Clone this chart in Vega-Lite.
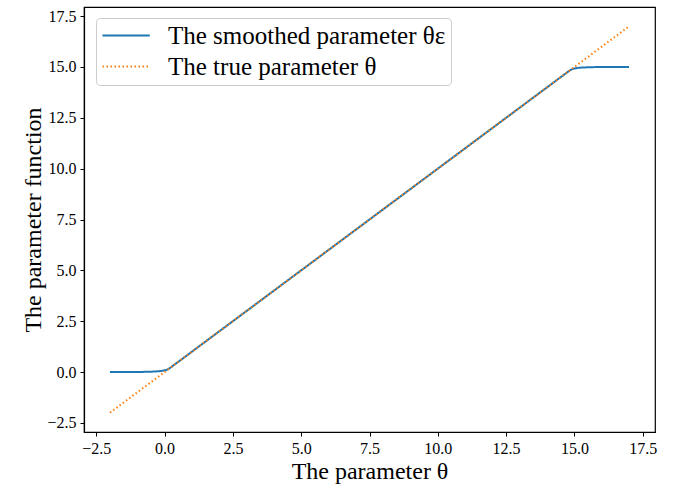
{
  "$schema": "https://vega.github.io/schema/vega-lite/v6.json",
  "width": 571,
  "height": 425,
  "autosize": "none",
  "padding": {"left": 84, "top": 7, "right": 26, "bottom": 55},
  "background": "white",
  "config": {
    "view": {"stroke": "black", "strokeWidth": 1.2},
    "font": "Liberation Serif",
    "axis": {
      "grid": false,
      "domainColor": "black",
      "domainWidth": 1.2,
      "tickColor": "black",
      "tickSize": 4,
      "tickWidth": 1,
      "labelFont": "Liberation Serif",
      "labelFontSize": 16,
      "labelColor": "black",
      "titleFont": "Liberation Serif",
      "titleFontSize": 24,
      "titleFontWeight": "normal",
      "titleColor": "black"
    }
  },
  "data": {
    "values": [
      {"theta": -2.0, "value": 0.0, "series": "smoothed"},
      {"theta": -1.5, "value": 0.0, "series": "smoothed"},
      {"theta": -1.0, "value": 0.003, "series": "smoothed"},
      {"theta": -0.8, "value": 0.006, "series": "smoothed"},
      {"theta": -0.6, "value": 0.012, "series": "smoothed"},
      {"theta": -0.4, "value": 0.022, "series": "smoothed"},
      {"theta": -0.3, "value": 0.03, "series": "smoothed"},
      {"theta": -0.2, "value": 0.042, "series": "smoothed"},
      {"theta": -0.1, "value": 0.058, "series": "smoothed"},
      {"theta": 0.0, "value": 0.08, "series": "smoothed"},
      {"theta": 0.05, "value": 0.096, "series": "smoothed"},
      {"theta": 0.1, "value": 0.12, "series": "smoothed"},
      {"theta": 0.15, "value": 0.155, "series": "smoothed"},
      {"theta": 0.2, "value": 0.2, "series": "smoothed"},
      {"theta": 14.8, "value": 14.8, "series": "smoothed"},
      {"theta": 14.85, "value": 14.845, "series": "smoothed"},
      {"theta": 14.9, "value": 14.88, "series": "smoothed"},
      {"theta": 14.95, "value": 14.905, "series": "smoothed"},
      {"theta": 15.0, "value": 14.925, "series": "smoothed"},
      {"theta": 15.1, "value": 14.95, "series": "smoothed"},
      {"theta": 15.2, "value": 14.965, "series": "smoothed"},
      {"theta": 15.35, "value": 14.978, "series": "smoothed"},
      {"theta": 15.5, "value": 14.986, "series": "smoothed"},
      {"theta": 15.75, "value": 14.994, "series": "smoothed"},
      {"theta": 16.0, "value": 14.997, "series": "smoothed"},
      {"theta": 16.5, "value": 14.999, "series": "smoothed"},
      {"theta": 17.0, "value": 15.0, "series": "smoothed"},
      {"theta": -2.0, "value": -2.0, "series": "true"},
      {"theta": 17.0, "value": 17.0, "series": "true"}
    ]
  },
  "encoding": {
    "x": {
      "field": "theta",
      "type": "quantitative",
      "scale": {"domain": [-2.95, 17.95], "nice": false, "zero": false},
      "axis": {"values": [-2.5, 0, 2.5, 5, 7.5, 10, 12.5, 15, 17.5], "format": ".1f", "title": "The parameter θ", "labelPadding": 4, "titlePadding": 3}
    },
    "y": {
      "field": "value",
      "type": "quantitative",
      "scale": {"domain": [-2.95, 17.95], "nice": false, "zero": false},
      "axis": {"values": [-2.5, 0, 2.5, 5, 7.5, 10, 12.5, 15, 17.5], "format": ".1f", "title": "The parameter function", "labelPadding": 4, "titlePadding": 1}
    },
    "color": {
      "field": "series",
      "type": "nominal",
      "scale": {"domain": ["smoothed", "true"], "range": ["#1f77b4", "#ff7f0e"]},
      "legend": {
        "title": null,
        "orient": "none",
        "legendX": 12,
        "legendY": 11,
        "labelExpr": "datum.value == 'smoothed' ? 'The smoothed parameter θε' : 'The true parameter θ'",
        "labelFont": "Liberation Serif",
        "labelFontSize": 25,
        "labelLimit": 600,
        "labelColor": "black",
        "symbolType": "M-1,0H3.3",
        "symbolSize": 484,
        "symbolStrokeWidth": 2,
        "symbolFillColor": "transparent",
        "rowPadding": 5,
        "labelOffset": 42,
        "padding": 5,
        "strokeColor": "#cccccc",
        "fillColor": "rgba(255,255,255,0.8)",
        "cornerRadius": 4
      }
    },
    "strokeDash": {
      "field": "series",
      "type": "nominal",
      "scale": {"domain": ["smoothed", "true"], "range": [[1, 0], [1.5, 2.5]]},
      "legend": null
    }
  },
  "layer": [
    {
      "transform": [{"filter": "datum.series == 'smoothed'"}],
      "mark": {"type": "line", "strokeWidth": 2}
    },
    {
      "transform": [{"filter": "datum.series == 'true'"}],
      "mark": {"type": "line", "strokeWidth": 2}
    }
  ]
}
